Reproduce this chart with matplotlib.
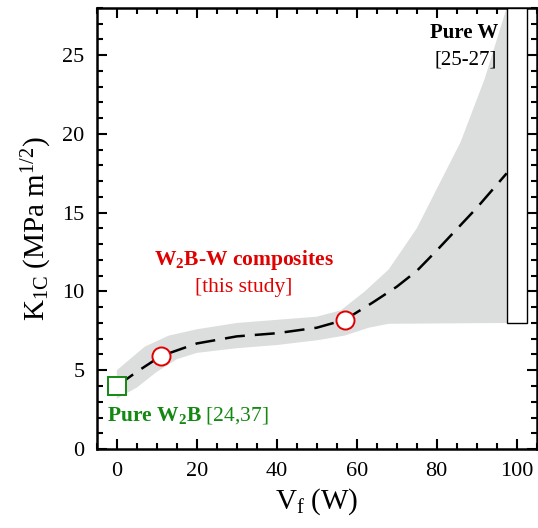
import matplotlib
matplotlib.use('Agg')
import matplotlib.pyplot as plt
from matplotlib.ticker import MultipleLocator
from matplotlib.patches import Rectangle

plt.rcParams['font.family'] = 'Liberation Serif'
plt.rcParams['mathtext.fontset'] = 'custom'
plt.rcParams['mathtext.rm'] = 'Liberation Serif'
plt.rcParams['mathtext.it'] = 'Liberation Serif:italic'
plt.rcParams['mathtext.bf'] = 'Liberation Serif:bold'

# data
bandX_upper = [0, 7, 13, 20, 30, 40, 50, 56, 62, 68, 75, 86, 92, 97.5]
bandY_upper = [5.0, 6.5, 7.2, 7.6, 8.0, 8.2, 8.4, 8.8, 10.0, 11.4, 14.0, 19.5, 23.5, 28.0]
bandX_lower = [0, 5, 10, 15, 20, 30, 40, 50, 57, 63, 68, 97.5]
bandY_lower = [3.2, 3.9, 4.9, 5.7, 6.1, 6.4, 6.6, 6.9, 7.2, 7.7, 7.95, 8.0]

fitX = [0, 5, 11, 20, 30, 40, 50, 57, 64, 70, 75, 80, 90, 97.5]
fitY = [4.0, 4.9, 5.9, 6.7, 7.15, 7.35, 7.7, 8.2, 9.3, 10.3, 11.3, 12.6, 15.3, 17.5]

compX = [11, 57]
compY = [5.9, 8.2]

w2bX = [0]
w2bY = [4.0]

pureW_x = 100
pureW_range = (8.0, 28.0)

RED = '#e00000'
GREEN = '#138813'

fig = plt.figure(figsize=(5.38, 5.28), dpi=100)
ax = fig.add_axes([0.18, 0.1496, 0.8175, 0.8354])

# shaded band
ax.fill(bandX_upper + bandX_lower[::-1], bandY_upper + bandY_lower[::-1],
        color='#dcdddd', lw=0, zorder=1)

# dashed guide line
ax.plot(fitX, fitY, color='black', lw=1.8, dashes=(8, 4), zorder=2)

# pure W range bar
ax.add_patch(Rectangle((pureW_x - 2.5, pureW_range[0]), 5, pureW_range[1] - pureW_range[0],
                       facecolor='white', edgecolor='black', lw=1.0, zorder=3))

ax.plot(compX, compY, 'o', ms=13, mfc='white', mec=RED, mew=1.4, zorder=4, clip_on=False)
ax.plot(w2bX, w2bY, 's', ms=13, mfc='white', mec=GREEN, mew=1.4, zorder=4, clip_on=False)

# labels on the plot
ax.text(95.4, 26.4, 'Pure W', ha='right', va='center', fontsize=15, fontweight='bold')
ax.text(95.0, 24.7, '[25-27]', ha='right', va='center', fontsize=15)
ax.text(31.7, 12.0, r'$\mathbf{W_2B}$' + '-W composites', ha='center', va='center',
        fontsize=15.5, fontweight='bold', color=RED)
ax.text(31.8, 10.25, '[this study]', ha='center', va='center', fontsize=15.5, color=RED)
ax.text(-2.4, 2.1, r'$\mathbf{Pure\ W_2B}$ [24,37]', ha='left', va='center',
        fontsize=15.5, color=GREEN)

ax.set_xlim(-5, 105)
ax.set_ylim(0, 28)
ax.xaxis.set_major_locator(MultipleLocator(20))
ax.xaxis.set_minor_locator(MultipleLocator(5))
ax.yaxis.set_major_locator(MultipleLocator(5))
ax.yaxis.set_minor_locator(MultipleLocator(1))
ax.tick_params(which='both', direction='in', top=True, right=True, width=1.5, labelsize=16)
ax.tick_params(which='major', length=7)
ax.tick_params(which='minor', length=4)
ax.tick_params(axis='x', pad=9)
ax.tick_params(axis='y', pad=9)
for s in ax.spines.values():
    s.set_linewidth(1.8)

ax.set_xlabel(r'$\mathregular{V_f\ (W)}$', fontsize=21, labelpad=4)
ax.set_ylabel(r'$\mathregular{K_{1C}\ (MPa\ m^{1/2})}$', fontsize=21, labelpad=6)

fig.savefig('out.png', dpi=100)
